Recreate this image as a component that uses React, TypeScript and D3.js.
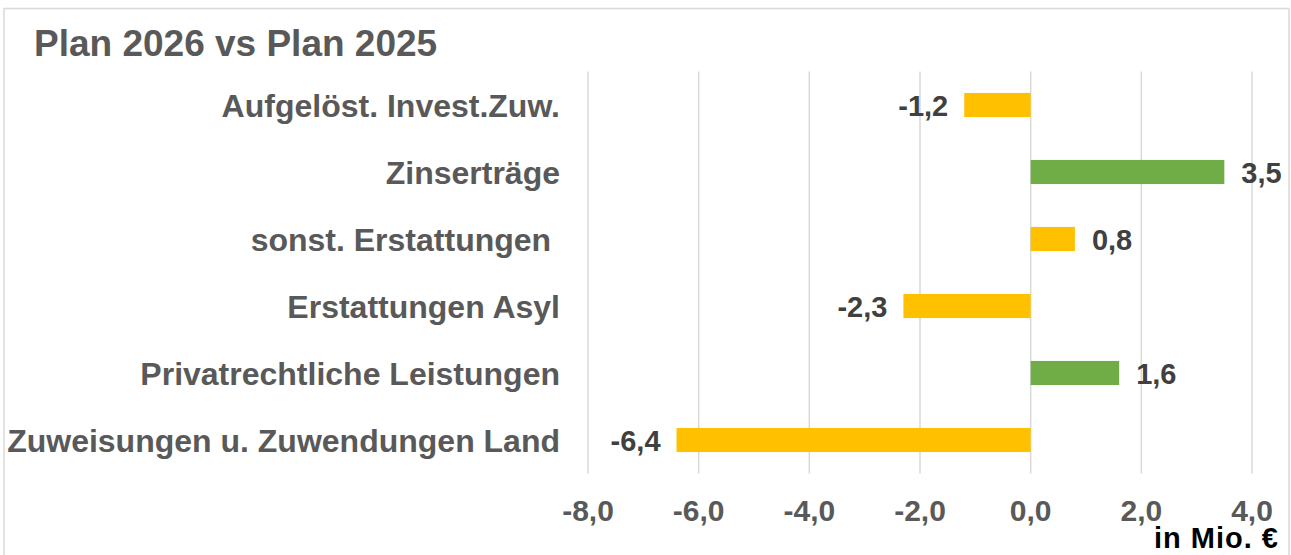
import React from "react";
import * as d3 from "d3";

const categories = [
  "Aufgelöst. Invest.Zuw.",
  "Zinserträge",
  "sonst. Erstattungen ",
  "Erstattungen Asyl",
  "Privatrechtliche Leistungen",
  "Zuweisungen u. Zuwendungen Land",
];
const values = [-1.2, 3.5, 0.8, -2.3, 1.6, -6.4];
const highlighted = [false, true, false, false, true, false];
const xTicks = [-8, -6, -4, -2, 0, 2, 4];
const title = "Plan 2026 vs Plan 2025";
const unitLabel = "in Mio. €";

const W = 1291;
const H = 555;
const FONT = "'Liberation Sans', Arial, Helvetica, sans-serif";

const locale = d3.formatLocale({
  decimal: ",",
  thousands: ".",
  grouping: [3],
  currency: ["", "€"],
  minus: "-",
});
const fmt = locale.format(".1f");

export default function App() {
  const x = d3.scaleLinear().domain([-8, 4]).range([588, 1252]);
  const y = d3
    .scaleBand<string>()
    .domain(categories)
    .range([71.5, 473.5])
    .paddingInner(0.64)
    .paddingOuter(0.32);
  const bw = y.bandwidth();
  const x0 = x(0);

  return (
    <svg
      width={W}
      height={H}
      viewBox={`0 0 ${W} ${H}`}
      style={{ position: "absolute", left: 0, top: 0, display: "block", background: "#fff" }}
    >
      <rect x={4} y={8.5} width={1285} height={560} fill="#fff" stroke="#d9d9d9" strokeWidth={1.5} />
      <text x={34} y={56} fontFamily={FONT} fontWeight="bold" fontSize={37} fill="#595959">
        {title}
      </text>
      {xTicks.map((t) => (
        <line
          key={"g" + t}
          x1={x(t)}
          x2={x(t)}
          y1={71.5}
          y2={473.5}
          stroke="#d9d9d9"
          strokeWidth={1.5}
        />
      ))}
      {xTicks.map((t) => (
        <text
          key={"t" + t}
          x={x(t)}
          y={521}
          textAnchor="middle"
          fontFamily={FONT}
          fontWeight="bold"
          fontSize={30}
          fill="#595959"
        >
          {fmt(t)}
        </text>
      ))}
      {categories.map((c, i) => {
        const v = values[i];
        const yc = (y(c) as number) + bw / 2;
        const xv = x(v);
        return (
          <g key={c}>
            <rect
              x={Math.min(x0, xv)}
              y={y(c)}
              width={Math.abs(xv - x0)}
              height={bw}
              fill={highlighted[i] ? "#70AD47" : "#FFC000"}
            />
            <text
              x={v < 0 ? xv - 16 : xv + 17}
              y={yc + 10.5}
              textAnchor={v < 0 ? "end" : "start"}
              fontFamily={FONT}
              fontWeight="bold"
              fontSize={29}
              fill="#404040"
            >
              {fmt(v)}
            </text>
            <text
              x={560}
              y={yc + 11.5}
              textAnchor="end"
              fontFamily={FONT}
              fontWeight="bold"
              fontSize={32}
              fill="#595959"
              style={{ whiteSpace: "pre" }}
              xmlSpace="preserve"
            >
              {c}
            </text>
          </g>
        );
      })}
      <text
        x={1279}
        y={548}
        textAnchor="end"
        fontFamily={FONT}
        fontWeight="bold"
        fontSize={29}
        letterSpacing={1}
        fill="#000"
      >
        {unitLabel}
      </text>
    </svg>
  );
}
